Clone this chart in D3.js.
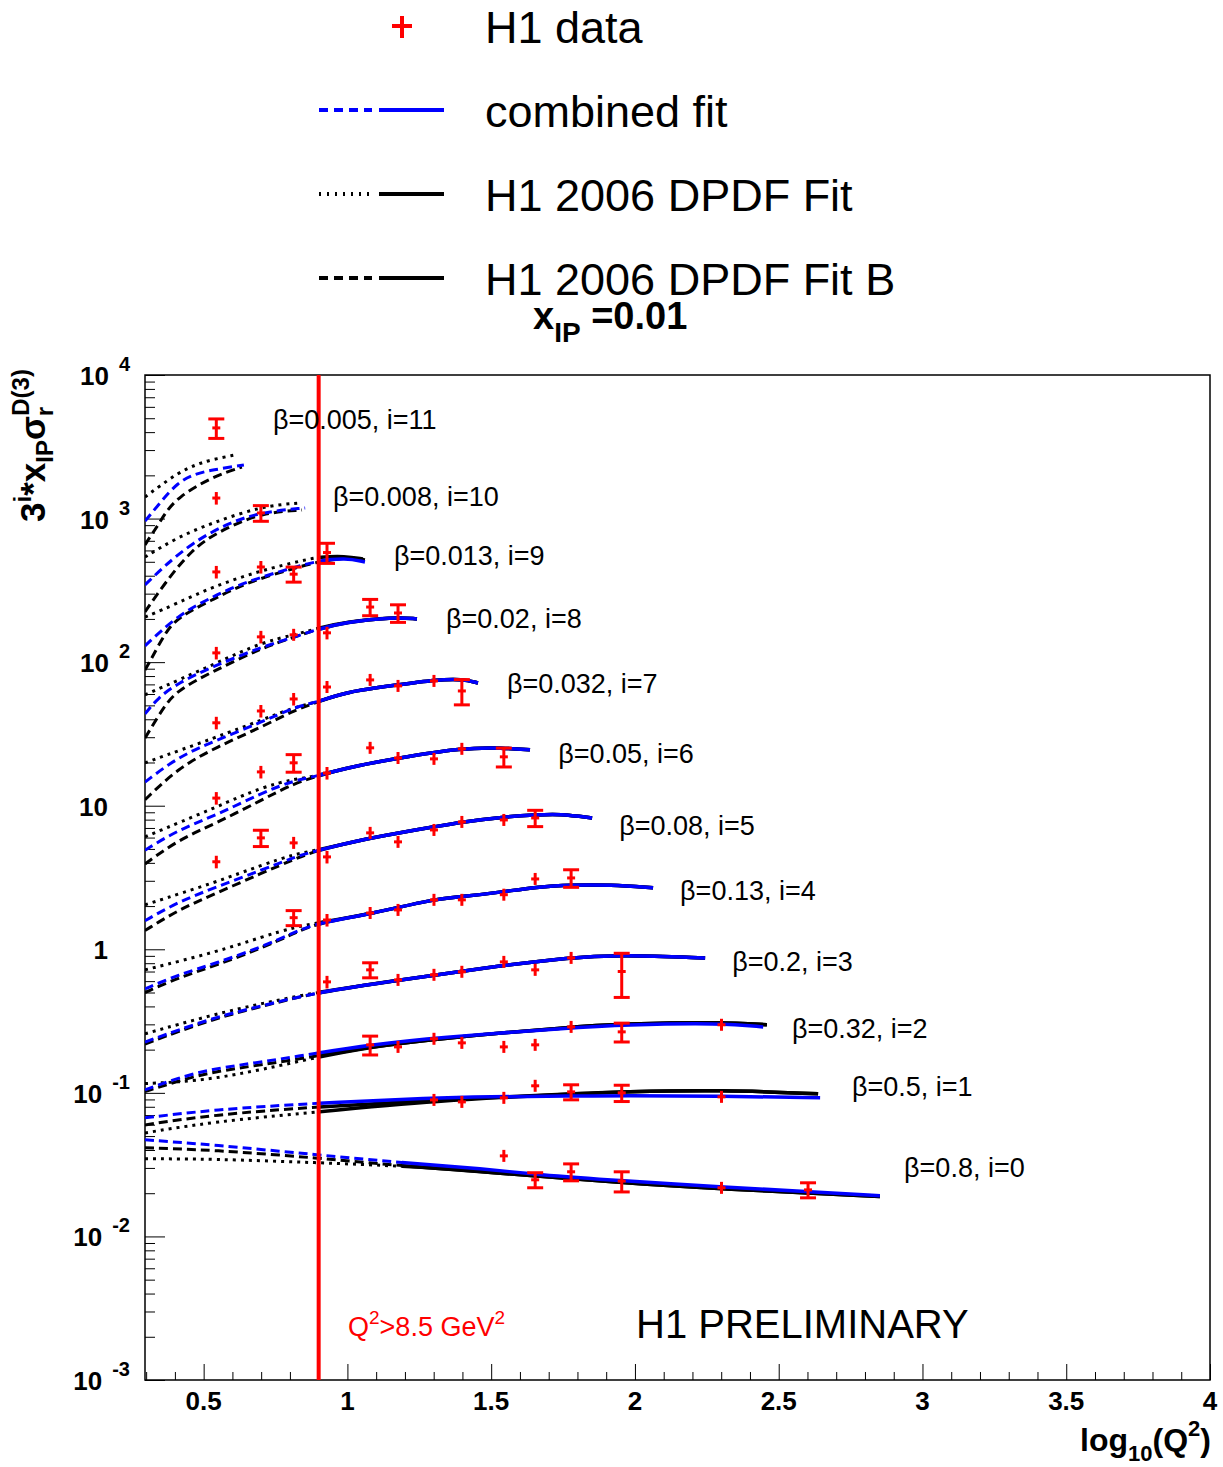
<!DOCTYPE html>
<html>
<head>
<meta charset="utf-8">
<script src="https://cdn.jsdelivr.net/npm/d3@7"></script>
<style>
  body { margin: 0; background: #fff; }
</style>
</head>
<body>
<div id="chart"></div>
<script>
// beta bins, index = i (scale factor 3^i)
const betas = [0.8, 0.5, 0.32, 0.2, 0.13, 0.08, 0.05, 0.032, 0.02, 0.013, 0.008, 0.005];
const betaLabels = ["β=0.8, i=0", "β=0.5, i=1", "β=0.32, i=2", "β=0.2, i=3", "β=0.13, i=4", "β=0.08, i=5",
  "β=0.05, i=6", "β=0.032, i=7", "β=0.02, i=8", "β=0.013, i=9", "β=0.008, i=10", "β=0.005, i=11"];
// label anchor [log10(Q2), value]
const labelAnchor = [[2.936, 0.0301], [2.755, 0.110], [2.546, 0.279], [2.338, 0.817], [2.157, 2.55], [1.945, 7.23],
  [1.733, 23.0], [1.555, 70.5], [1.343, 200], [1.162, 549], [0.950, 1413], [0.741, 4860]];
// fits are dashed/dotted below this log10(Q2), solid above
const solidFrom = [1.19, 0.9, 0.9, 0.9, 0.9, 0.9, 0.9, 0.9, 0.9, 0.9, 0.9, 0.9];
const cutLine = 0.9;

// H1 data: [log10(Q2), 3^i * xIP * sigma_r, relative error]
const h1Data = [
  [[1.544, 0.0364, 0.08], [1.653, 0.0248, 0.12], [1.778, 0.0282, 0.135], [1.954, 0.0243, 0.16], [2.301, 0.0218, 0.08], [2.602, 0.0211, 0.12]],
  [[1.301, 0.0893, 0.07], [1.398, 0.0865, 0.07], [1.544, 0.0923, 0.07], [1.653, 0.112, 0.08], [1.778, 0.1016, 0.12], [1.954, 0.100, 0.13], [2.301, 0.0938, 0.07]],
  [[1.079, 0.216, 0.15], [1.176, 0.209, 0.07], [1.301, 0.238, 0.07], [1.398, 0.223, 0.08], [1.544, 0.209, 0.08], [1.653, 0.216, 0.08], [1.778, 0.288, 0.07], [1.954, 0.266, 0.15], [2.301, 0.298, 0.06]],
  [[0.929, 0.593, 0.1], [1.079, 0.719, 0.12], [1.176, 0.612, 0.07], [1.301, 0.664, 0.07], [1.398, 0.697, 0.07], [1.544, 0.817, 0.07], [1.653, 0.719, 0.07], [1.778, 0.871, 0.06], [1.954, 0.70, 0.34]],
  [[0.813, 1.66, 0.12], [0.929, 1.60, 0.1], [1.079, 1.79, 0.08], [1.176, 1.88, 0.06], [1.301, 2.21, 0.06], [1.398, 2.21, 0.06], [1.544, 2.40, 0.06], [1.653, 3.09, 0.07], [1.778, 3.14, 0.14]],
  [[0.544, 4.07, 0.1], [0.699, 5.97, 0.13], [0.813, 5.51, 0.08], [0.929, 4.40, 0.1], [1.079, 6.47, 0.08], [1.176, 5.60, 0.07], [1.301, 6.78, 0.06], [1.398, 7.71, 0.06], [1.544, 7.96, 0.06], [1.653, 8.22, 0.13]],
  [[0.544, 11.3, 0.1], [0.699, 17.2, 0.1], [0.813, 19.9, 0.14], [0.929, 16.9, 0.1], [1.079, 25.3, 0.08], [1.176, 21.5, 0.07], [1.301, 21.2, 0.07], [1.398, 24.9, 0.07], [1.544, 21.9, 0.15]],
  [[0.544, 37.8, 0.1], [0.699, 45.7, 0.1], [0.813, 55.4, 0.1], [0.929, 67.1, 0.08], [1.079, 75.2, 0.08], [1.176, 68.3, 0.06], [1.301, 74.0, 0.07], [1.398, 63.0, 0.2]],
  [[0.544, 116, 0.1], [0.699, 150, 0.1], [0.813, 155, 0.08], [0.929, 160, 0.1], [1.079, 242, 0.13], [1.176, 220, 0.14]],
  [[0.544, 425, 0.1], [0.699, 460, 0.1], [0.813, 410, 0.12], [0.929, 580, 0.16]],
  [[0.544, 1390, 0.1], [0.699, 1094, 0.125]],
  [[0.544, 4280, 0.155]]
];

// combined fit (blue)
const combinedFit = [
  [[0.296, 0.0471], [0.529, 0.0435], [0.898, 0.0370], [1.19, 0.0326], [1.479, 0.0296], [1.656, 0.0269], [1.955, 0.0244], [2.303, 0.0221], [2.60, 0.0205], [2.852, 0.0192]],
  [[0.296, 0.0670], [0.529, 0.0762], [0.898, 0.0851], [1.301, 0.0923], [1.479, 0.0938], [1.781, 0.0953], [1.955, 0.0953], [2.303, 0.0953], [2.644, 0.0923]],
  [[0.296, 0.105], [0.411, 0.127], [0.529, 0.147], [0.703, 0.164], [0.898, 0.190], [1.082, 0.216], [1.305, 0.242], [1.781, 0.284], [1.955, 0.298], [2.303, 0.307], [2.446, 0.288]],
  [[0.296, 0.226], [0.529, 0.333], [0.703, 0.404], [0.898, 0.505], [1.183, 0.612], [1.479, 0.742], [1.781, 0.885], [1.955, 0.914], [2.244, 0.871]],
  [[0.296, 0.53], [0.411, 0.664], [0.546, 0.804], [0.703, 1.04], [0.818, 1.32], [0.898, 1.53], [1.082, 1.76], [1.301, 2.24], [1.399, 2.32], [1.541, 2.51], [1.656, 2.72], [1.781, 2.81], [1.913, 2.81], [2.063, 2.68]],
  [[0.296, 1.58], [0.411, 2.14], [0.546, 2.72], [0.703, 3.57], [0.818, 4.40], [0.898, 4.92], [1.082, 5.97], [1.179, 6.47], [1.301, 7.12], [1.399, 7.71], [1.541, 8.36], [1.656, 8.63], [1.739, 8.77], [1.851, 8.22]],
  [[0.296, 4.90], [0.411, 6.79], [0.546, 8.63], [0.703, 12.3], [0.818, 15.1], [0.898, 16.1], [0.992, 18.3], [1.176, 21.5], [1.399, 25.3], [1.541, 25.3], [1.635, 24.5]],
  [[0.296, 14.6], [0.411, 21.9], [0.546, 28.7], [0.703, 38.3], [0.818, 48.8], [0.898, 52.8], [0.992, 62.0], [1.176, 69.4], [1.305, 75.2], [1.399, 76.4], [1.454, 71.6]],
  [[0.296, 43.6], [0.341, 56.4], [0.411, 71.6], [0.529, 92.6], [0.703, 128], [0.818, 150], [0.898, 170], [0.992, 190], [1.159, 206], [1.242, 200]],
  [[0.296, 130], [0.411, 213], [0.529, 284], [0.644, 362], [0.818, 460], [0.898, 507], [0.992, 532], [1.061, 499]],
  [[0.296, 345], [0.36, 460], [0.459, 676], [0.585, 932], [0.703, 1112], [0.853, 1186]],
  [[0.296, 960], [0.35, 1300], [0.411, 1799], [0.47, 2050], [0.529, 2180], [0.640, 2362]]
];

// H1 2006 DPDF Fit (black, dotted below cut)
const dpdfFit = [
  [[0.296, 0.0347], [0.529, 0.0347], [0.898, 0.0326], [1.19, 0.0310], [1.479, 0.0282], [1.955, 0.0236], [2.303, 0.0214], [2.852, 0.0190]],
  [[0.296, 0.0526], [0.529, 0.0628], [0.898, 0.0738], [1.301, 0.0880], [1.781, 0.0984], [1.955, 0.1016], [2.303, 0.105], [2.637, 0.0984]],
  [[0.296, 0.116], [0.411, 0.119], [0.529, 0.125], [0.703, 0.145], [0.898, 0.178], [1.082, 0.209], [1.305, 0.238], [1.781, 0.288], [1.955, 0.302], [2.303, 0.312], [2.459, 0.298]],
  [[0.296, 0.258], [0.529, 0.349], [0.703, 0.42], [0.898, 0.505], [1.183, 0.612], [1.479, 0.742], [1.781, 0.885], [1.955, 0.914], [2.244, 0.871]],
  [[0.296, 0.719], [0.546, 0.960], [0.703, 1.22], [0.818, 1.43], [0.898, 1.53], [1.082, 1.76], [1.301, 2.24], [1.399, 2.32], [1.541, 2.51], [1.656, 2.72], [1.781, 2.81], [1.913, 2.81], [2.063, 2.68]],
  [[0.296, 2.04], [0.546, 2.95], [0.703, 3.87], [0.818, 4.61], [0.898, 4.92], [1.082, 5.97], [1.179, 6.47], [1.301, 7.12], [1.399, 7.71], [1.541, 8.36], [1.656, 8.63], [1.739, 8.77], [1.851, 8.22]],
  [[0.296, 6.07], [0.546, 9.82], [0.703, 13.5], [0.818, 15.4], [0.898, 16.1], [0.992, 18.3], [1.176, 21.5], [1.399, 25.3], [1.541, 25.3], [1.635, 24.5]],
  [[0.296, 19.9], [0.546, 30.1], [0.703, 39.6], [0.818, 48.8], [0.898, 52.8], [0.992, 62.0], [1.176, 69.4], [1.305, 75.2], [1.399, 76.4], [1.454, 71.6]],
  [[0.296, 59.1], [0.546, 98.7], [0.703, 138], [0.818, 155], [0.898, 173], [0.992, 190], [1.159, 206], [1.242, 200]],
  [[0.296, 206], [0.411, 258], [0.529, 334], [0.703, 438], [0.853, 515], [0.902, 540], [0.992, 549], [1.054, 523]],
  [[0.296, 540], [0.411, 745], [0.529, 932], [0.703, 1224], [0.835, 1284]],
  [[0.296, 1413], [0.348, 1687], [0.411, 2078], [0.470, 2362], [0.522, 2559], [0.609, 2773]]
];

// H1 2006 DPDF Fit B (black, dashed below cut)
const dpdfFitB = [
  [[0.296, 0.0414], [0.529, 0.0401], [0.898, 0.0352], [1.19, 0.0310], [1.479, 0.0282], [1.955, 0.0236], [2.303, 0.0214], [2.852, 0.0190]],
  [[0.296, 0.0598], [0.529, 0.0703], [0.898, 0.0800], [1.301, 0.0893], [1.781, 0.0984], [1.955, 0.1016], [2.303, 0.105], [2.637, 0.0984]],
  [[0.296, 0.102], [0.411, 0.121], [0.529, 0.140], [0.703, 0.157], [0.898, 0.181], [1.082, 0.209], [1.305, 0.238], [1.781, 0.288], [1.955, 0.302], [2.303, 0.312], [2.459, 0.298]],
  [[0.296, 0.219], [0.529, 0.327], [0.703, 0.40], [0.898, 0.505], [1.183, 0.612], [1.479, 0.742], [1.781, 0.885], [1.955, 0.914], [2.244, 0.871]],
  [[0.296, 0.50], [0.411, 0.632], [0.546, 0.778], [0.703, 1.02], [0.818, 1.30], [0.898, 1.53], [1.082, 1.76], [1.301, 2.24], [1.399, 2.32], [1.541, 2.51], [1.656, 2.72], [1.781, 2.81], [1.913, 2.81], [2.063, 2.68]],
  [[0.296, 1.35], [0.411, 1.88], [0.546, 2.47], [0.703, 3.40], [0.818, 4.26], [0.898, 4.92], [1.082, 5.97], [1.179, 6.47], [1.301, 7.12], [1.399, 7.71], [1.541, 8.36], [1.656, 8.63], [1.739, 8.77], [1.851, 8.22]],
  [[0.296, 3.93], [0.411, 5.78], [0.546, 7.59], [0.703, 11.0], [0.818, 14.4], [0.898, 16.1], [0.992, 18.3], [1.176, 21.5], [1.399, 25.3], [1.541, 25.3], [1.635, 24.5]],
  [[0.296, 11.0], [0.411, 18.3], [0.546, 25.7], [0.703, 35.4], [0.818, 46.5], [0.898, 52.8], [0.992, 62.0], [1.176, 69.4], [1.305, 75.2], [1.399, 76.4], [1.454, 71.6]],
  [[0.296, 29.6], [0.313, 33.7], [0.366, 50.4], [0.411, 64.0], [0.529, 85.5], [0.703, 126], [0.818, 150], [0.898, 170], [0.992, 190], [1.159, 206], [1.242, 200]],
  [[0.296, 88], [0.320, 107], [0.366, 160], [0.411, 206], [0.529, 271], [0.644, 356], [0.818, 453], [0.898, 499], [0.992, 540], [1.061, 515]],
  [[0.296, 224], [0.331, 284], [0.459, 634], [0.585, 874], [0.703, 1094], [0.842, 1148]],
  [[0.296, 655], [0.313, 745], [0.331, 833], [0.366, 1094], [0.411, 1413], [0.529, 1950], [0.633, 2287]]
];

const xTickLabels = ["0.5", "1", "1.5", "2", "2.5", "3", "3.5", "4"];
const yTickExp = [-3, -2, -1, 0, 1, 2, 3, 4];

const legendItems = ["H1 data", "combined fit", "H1 2006 DPDF Fit", "H1 2006 DPDF Fit B"];

const W = 1223, H = 1467;
const plot = { left: 145, right: 1210, top: 375, bottom: 1380 };
const font = "'Liberation Sans', Arial, Helvetica, sans-serif";

const svg = d3.select("#chart").append("svg")
  .attr("width", W).attr("height", H)
  .style("font-family", font);
const defs = svg.append("defs");

const x = d3.scaleLinear().domain([0.296, 4]).range([plot.left, plot.right]);
const y = d3.scaleLog().domain([1e-3, 1e4]).range([plot.bottom, plot.top]);

// axis ticks (inward, ROOT style)
const yTicks = y.ticks();
const yMajor = yTicks.filter(v => Math.abs(Math.log10(v) - Math.round(Math.log10(v))) < 1e-9);
const yMinor = yTicks.filter(v => !yMajor.includes(v));
svg.append("g").attr("transform", `translate(${plot.left},0)`)
  .call(d3.axisRight(y).tickValues(yMajor).tickSize(20).tickFormat(""))
  .call(g => g.select(".domain").remove());
svg.append("g").attr("transform", `translate(${plot.left},0)`)
  .call(d3.axisRight(y).tickValues(yMinor).tickSize(10).tickFormat(""))
  .call(g => g.select(".domain").remove());

const xTicks = x.ticks(40);
const xMajor = xTicks.filter(v => Math.abs(v * 2 - Math.round(v * 2)) < 1e-9);
const xMinor = xTicks.filter(v => !xMajor.includes(v));
svg.append("g").attr("transform", `translate(0,${plot.bottom})`)
  .call(d3.axisTop(x).tickValues(xMajor).tickSize(16).tickFormat(""))
  .call(g => g.select(".domain").remove());
svg.append("g").attr("transform", `translate(0,${plot.bottom})`)
  .call(d3.axisTop(x).tickValues(xMinor).tickSize(8).tickFormat(""))
  .call(g => g.select(".domain").remove());
svg.selectAll(".tick line").attr("stroke", "#000").attr("stroke-width", 1);

// frame
svg.append("rect")
  .attr("x", plot.left).attr("y", plot.top)
  .attr("width", plot.right - plot.left).attr("height", plot.bottom - plot.top)
  .attr("fill", "none").attr("stroke", "#000").attr("stroke-width", 1.5);

// x tick labels
xMajor.forEach((v, k) => {
  svg.append("text")
    .attr("x", x(v)).attr("y", 1410)
    .attr("text-anchor", "middle")
    .attr("font-weight", "bold").attr("font-size", 26)
    .text(xTickLabels[k]);
});

// y tick labels with superscript exponent
yMajor.forEach((v, k) => {
  const e = yTickExp[k];
  const t = svg.append("text")
    .attr("y", y(v) + 10)
    .attr("text-anchor", "end")
    .attr("font-weight", "bold").attr("font-size", 26);
  if (e === 0 || e === 1) {
    t.attr("x", 108).text(e === 0 ? "1" : "10");
  } else {
    t.attr("x", 130);
    t.append("tspan").text("10");
    t.append("tspan").attr("dx", 10).attr("dy", -14).attr("font-size", 20).text(e);
  }
});

// y axis title
const yl = svg.append("text")
  .attr("transform", "translate(45,522) rotate(-90)")
  .attr("font-weight", "bold").attr("font-size", 35);
yl.append("tspan").text("3");
yl.append("tspan").attr("font-size", 24).attr("dy", -14).text("i");
yl.append("tspan").attr("dy", 14).text("*x");
yl.append("tspan").attr("font-size", 24).attr("dy", 8).text("IP");
yl.append("tspan").attr("dy", -8).text("σ");
yl.append("tspan").attr("font-size", 24).attr("dy", 8).text("r");
yl.append("tspan").attr("font-size", 24).attr("dx", -9).attr("dy", -24).text("D(3)");

// x axis title
const xt = svg.append("text")
  .attr("x", 1211).attr("y", 1451)
  .attr("text-anchor", "end")
  .attr("font-weight", "bold").attr("font-size", 32);
xt.append("tspan").text("log");
xt.append("tspan").attr("font-size", 22).attr("dy", 10).text("10");
xt.append("tspan").attr("dy", -10).text("(Q");
xt.append("tspan").attr("font-size", 22).attr("dy", -15).text("2");
xt.append("tspan").attr("dy", 15).text(")");

// clip regions: dashed part below solidFrom, solid part above
betas.forEach((b, i) => {
  const xs = x(solidFrom[i]);
  defs.append("clipPath").attr("id", "lo" + i).append("rect")
    .attr("x", plot.left).attr("y", plot.top).attr("width", xs - plot.left).attr("height", plot.bottom - plot.top);
  defs.append("clipPath").attr("id", "hi" + i).append("rect")
    .attr("x", xs).attr("y", plot.top).attr("width", plot.right - xs).attr("height", plot.bottom - plot.top);
});

const lineFunc = d3.line()
  .x(d => x(d[0]))
  .y(d => y(d[1]))
  .curve(d3.curveBasis);

const fitStyles = [
  { data: dpdfFit, color: "#000", dash: "3,5" },
  { data: dpdfFitB, color: "#000", dash: "9,5" },
  { data: combinedFit, color: "#0000ff", dash: "9,5" }
];

fitStyles.forEach(s => {
  s.data.forEach((pts, i) => {
    svg.append("path")
      .attr("d", lineFunc(pts))
      .attr("clip-path", `url(#lo${i})`)
      .attr("fill", "none").attr("stroke", s.color)
      .attr("stroke-width", 3).attr("stroke-dasharray", s.dash);
    svg.append("path")
      .attr("d", lineFunc(pts))
      .attr("clip-path", `url(#hi${i})`)
      .attr("fill", "none").attr("stroke", s.color)
      .attr("stroke-width", 3.5).attr("stroke-linecap", "butt");
  });
});

// cut line
svg.append("line")
  .attr("x1", x(cutLine)).attr("x2", x(cutLine))
  .attr("y1", plot.top).attr("y2", plot.bottom)
  .attr("stroke", "#ff0000").attr("stroke-width", 4);

// data points with error bars
const red = "#ff0000";
h1Data.forEach(series => {
  series.forEach(([lq, v, e]) => {
    const cx = x(lq), cy = y(v);
    const yTop = Math.min(y(v * (1 + e)), cy - 6);
    const yBot = Math.max(y(v * (1 - e)), cy + 6);
    svg.append("line").attr("x1", cx).attr("x2", cx).attr("y1", yTop).attr("y2", yBot)
      .attr("stroke", red).attr("stroke-width", 3);
    svg.append("line").attr("x1", cx - 4).attr("x2", cx + 4).attr("y1", cy).attr("y2", cy)
      .attr("stroke", red).attr("stroke-width", 3);
    if (e >= 0.12) {
      [yTop, yBot].forEach(yy => {
        svg.append("line").attr("x1", cx - 8).attr("x2", cx + 8).attr("y1", yy).attr("y2", yy)
          .attr("stroke", red).attr("stroke-width", 3);
      });
    }
  });
});

// beta labels
betaLabels.forEach((txt, i) => {
  svg.append("text")
    .attr("x", x(labelAnchor[i][0])).attr("y", y(labelAnchor[i][1]))
    .attr("dominant-baseline", "central")
    .attr("font-size", 27)
    .text(txt);
});

// annotations
const ql = svg.append("text")
  .attr("x", 348).attr("y", 1336)
  .attr("fill", red).attr("font-size", 27);
ql.append("tspan").text("Q");
ql.append("tspan").attr("font-size", 19).attr("dy", -12).text("2");
ql.append("tspan").attr("dy", 12).text(">8.5 GeV");
ql.append("tspan").attr("font-size", 19).attr("dy", -12).text("2");

svg.append("text")
  .attr("x", 636).attr("y", 1338)
  .attr("font-size", 40)
  .text("H1 PRELIMINARY");

// title
const tt = svg.append("text")
  .attr("x", 533).attr("y", 329)
  .attr("font-weight", "bold").attr("font-size", 38);
tt.append("tspan").text("x");
tt.append("tspan").attr("font-size", 28).attr("dy", 13).text("IP");
tt.append("tspan").attr("dy", -13).text(" =0.01");

// legend
const legendY = [27, 111, 195, 279];
legendItems.forEach((txt, k) => {
  svg.append("text")
    .attr("x", 485).attr("y", legendY[k] + 16)
    .attr("font-size", 45)
    .text(txt);
});
svg.append("line").attr("x1", 402).attr("x2", 402).attr("y1", legendY[0] - 11).attr("y2", legendY[0] + 11)
  .attr("stroke", red).attr("stroke-width", 4);
svg.append("line").attr("x1", 392).attr("x2", 412).attr("y1", legendY[0] - 1).attr("y2", legendY[0] - 1)
  .attr("stroke", red).attr("stroke-width", 4);

const legendLines = [
  { color: "#0000ff", dash: "9,6" },
  { color: "#000", dash: "2,6" },
  { color: "#000", dash: "9,6" }
];
legendLines.forEach((s, k) => {
  const ly = legendY[k + 1] - 1;
  svg.append("line").attr("x1", 319).attr("x2", 372).attr("y1", ly).attr("y2", ly)
    .attr("stroke", s.color).attr("stroke-width", 4).attr("stroke-dasharray", s.dash);
  svg.append("line").attr("x1", 379).attr("x2", 444).attr("y1", ly).attr("y2", ly)
    .attr("stroke", s.color).attr("stroke-width", 4);
});
</script>
</body>
</html>
